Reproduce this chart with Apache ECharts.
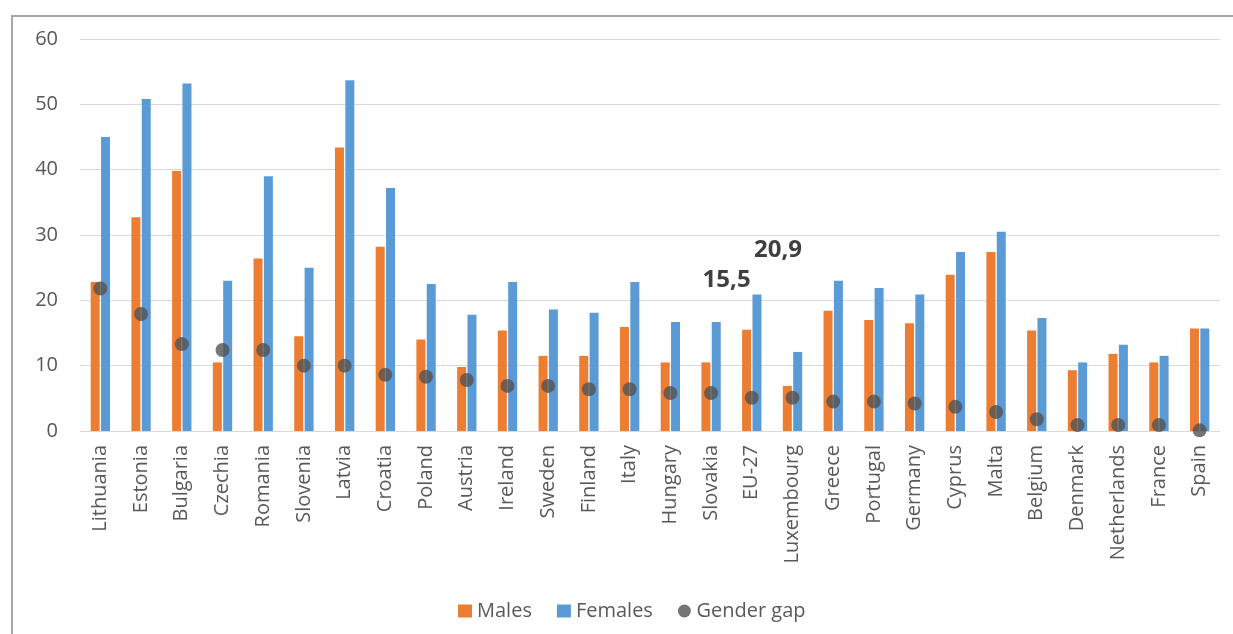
<!DOCTYPE html>
<html>
<head>
<meta charset="utf-8">
<script src="https://cdn.jsdelivr.net/npm/echarts@6/dist/echarts.min.js"></script>
<style>
html,body{margin:0;padding:0;background:#fff;}
#chart{width:1233px;height:634px;}
</style>
</head>
<body>
<div id="chart"></div>
<script>
const categories = ["Lithuania","Estonia","Bulgaria","Czechia","Romania","Slovenia","Latvia","Croatia","Poland","Austria","Ireland","Sweden","Finland","Italy","Hungary","Slovakia","EU-27","Luxembourg","Greece","Portugal","Germany","Cyprus","Malta","Belgium","Denmark","Netherlands","France","Spain"];
const males   = [22.8,32.7,39.8,10.5,26.4,14.5,43.4,28.2,14.0,9.8,15.4,11.5,11.5,15.9,10.5,10.5,15.5,6.9,18.4,17.0,16.5,23.9,27.4,15.4,9.3,11.8,10.5,15.7];
const females = [45.0,50.8,53.2,23.0,39.0,25.0,53.7,37.2,22.5,17.8,22.8,18.6,18.1,22.8,16.7,16.7,20.9,12.1,23.0,21.9,20.9,27.4,30.5,17.3,10.5,13.2,11.5,15.7];
const gap     = [21.8,17.9,13.3,12.4,12.4,10.0,10.0,8.6,8.3,7.8,6.9,6.9,6.4,6.4,5.8,5.8,5.1,5.1,4.5,4.5,4.2,3.7,2.9,1.8,0.9,0.9,0.9,0.1];
const labelledCategory = "EU-27";
const yTicks = [0,10,20,30,40,50,60];

const FONT = "'Open Sans', 'Noto Sans', sans-serif";
const idx = categories.indexOf(labelledCategory);
const labelStyle = {show:true, position:'top', fontFamily:FONT, fontSize:24, fontWeight:'bold', color:'#404040',
  formatter: p => String(p.value).replace('.', ',')};

const maleData = males.map((v,i) => i===idx ? {value:v, label:Object.assign({}, labelStyle, {offset:[-20,-33]})} : v);
const femaleData = females.map((v,i) => i===idx ? {value:v, label:Object.assign({}, labelStyle, {offset:[21,-27]})} : v);

const chart = echarts.init(document.getElementById('chart'));
chart.setOption({
  animation:false,
  backgroundColor:'#ffffff',
  graphic:[{type:'rect', shape:{x:12,y:16,width:1300,height:700}, style:{fill:'none', stroke:'#a6a6a6', lineWidth:2}, silent:true, z:-1}],
  grid:{left:80, right:13, top:39, bottom:203, containLabel:false},
  legend:{
    bottom:8, left:453,
    itemWidth:14, itemHeight:13, itemGap:25,
    textStyle:{fontFamily:FONT, fontSize:20, color:'#595959'},
    data:[{name:'Males', icon:'rect'},{name:'Females', icon:'rect'},{name:'Gender gap', icon:'circle'}]
  },
  xAxis:{
    type:'category', data:categories,
    axisLine:{show:true, lineStyle:{color:'#d9d9d9', width:1}},
    axisTick:{show:false},
    axisLabel:{rotate:90, interval:0, margin:14, fontFamily:FONT, fontSize:20, color:'#595959'}
  },
  yAxis:{
    type:'value', min:yTicks[0], max:yTicks[yTicks.length-1], interval:10,
    axisLine:{show:false}, axisTick:{show:false},
    splitLine:{lineStyle:{color:'#d9d9d9', width:1}},
    axisLabel:{margin:22, fontFamily:FONT, fontSize:20, color:'#595959'}
  },
  series:[
    {name:'Males', type:'bar', data:maleData, barWidth:9, barGap:'15%', itemStyle:{color:'#ED7D31'}},
    {name:'Females', type:'bar', data:femaleData, barWidth:9, barGap:'15%', itemStyle:{color:'#5B9BD5'}},
    {name:'Gender gap', type:'scatter', data:gap, symbol:'circle', symbolSize:14, itemStyle:{color:'#525252'}, z:5}
  ]
});
</script>
</body>
</html>
